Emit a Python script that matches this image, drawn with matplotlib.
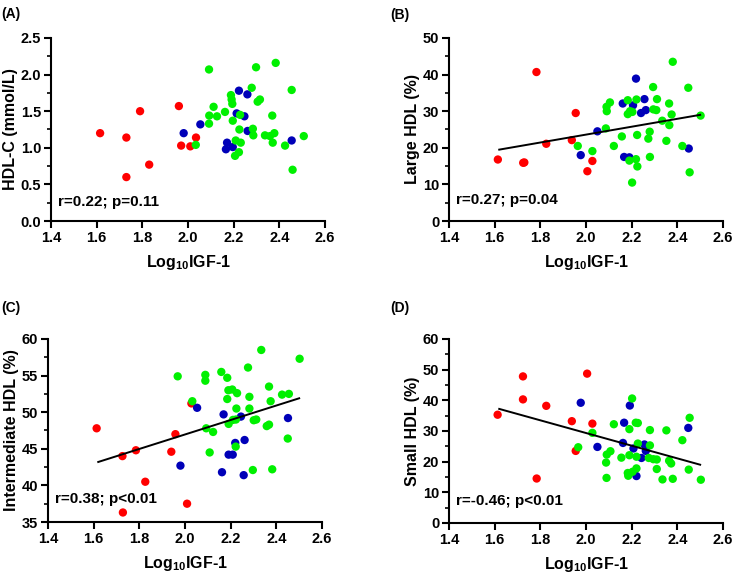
import matplotlib
matplotlib.use("Agg")
import matplotlib.pyplot as plt
from matplotlib.ticker import MultipleLocator

plt.rcParams['font.family'] = ['Liberation Sans', 'DejaVu Sans']
plt.rcParams['font.weight'] = 'bold'
plt.rcParams['mathtext.fontset'] = 'custom'
plt.rcParams['mathtext.bf'] = 'Liberation Sans:bold'
plt.rcParams['mathtext.rm'] = 'Liberation Sans:bold'

RED = '#FF0000'
GREEN = '#00F000'
BLUE = '#0000B8'

# ---- panel A: HDL-C ----
a_red_x = [1.615, 1.73, 1.73, 1.79, 1.83, 1.96, 1.97, 2.01, 2.035]
a_red_y = [1.20, 1.14, 0.60, 1.50, 0.77, 1.57, 1.03, 1.02, 1.14]
a_blue_x = [1.981, 2.054, 2.166, 2.171, 2.196, 2.213, 2.223, 2.247, 2.26, 2.261, 2.454]
a_blue_y = [1.20, 1.32, 0.98, 1.07, 1.01, 1.47, 1.78, 1.43, 1.73, 1.23, 1.10]
a_green_x = [2.034, 2.092, 2.092, 2.093, 2.112, 2.127, 2.162, 2.188, 2.191, 2.194, 2.196,
             2.206, 2.209, 2.223, 2.225, 2.228, 2.231, 2.279, 2.284, 2.286, 2.298, 2.305,
             2.315, 2.337, 2.359, 2.369, 2.371, 2.378, 2.384, 2.425, 2.454, 2.458, 2.507]
a_green_y = [1.04, 2.07, 1.33, 1.44, 1.56, 1.43, 1.49, 1.72, 1.66, 1.60, 1.37,
             0.89, 1.10, 0.94, 1.25, 1.45, 1.07, 1.82, 1.26, 1.17, 2.10, 1.63,
             1.66, 1.17, 1.16, 1.44, 1.07, 1.20, 2.16, 1.03, 1.79, 0.70, 1.16]

# ---- panel B: Large HDL ----
b_red_x = [1.614, 1.725, 1.73, 1.783, 1.826, 1.938, 1.955, 2.006, 2.028]
b_red_y = [16.8, 15.9, 16.0, 40.7, 21.1, 22.1, 29.5, 13.6, 16.4]
b_blue_x = [1.977, 2.05, 2.161, 2.167, 2.19, 2.206, 2.219, 2.241, 2.256, 2.262, 2.45]
b_blue_y = [18.0, 24.5, 32.1, 17.5, 17.4, 31.6, 38.9, 29.5, 33.3, 30.3, 19.8]
b_green_x = [1.964, 2.028, 2.087, 2.09, 2.091, 2.105, 2.122, 2.157, 2.183, 2.183, 2.19, 2.193,
             2.202, 2.203, 2.219, 2.221, 2.224, 2.225, 2.273, 2.279, 2.28, 2.294, 2.295, 2.308,
             2.311, 2.334, 2.352, 2.364, 2.365, 2.375, 2.38, 2.422, 2.448, 2.454, 2.502]
b_green_y = [20.5, 19.1, 25.3, 31.2, 30.0, 32.4, 20.5, 23.1, 33.0, 29.2, 16.5, 30.0,
             10.5, 29.8, 16.9, 33.2, 23.5, 14.9, 22.5, 24.4, 17.5, 36.6, 30.5, 30.3,
             33.3, 27.4, 21.9, 32.1, 26.2, 29.1, 43.5, 20.5, 36.4, 13.3, 28.8]
b_fit_x = [1.62, 2.50]
b_fit_y = [19.5, 29.0]

# ---- panel C: Intermediate HDL ----
c_red_x = [1.613, 1.726, 1.728, 1.785, 1.826, 1.94, 1.958, 2.009, 2.028]
c_red_y = [47.8, 44.0, 36.3, 44.8, 40.5, 44.6, 47.0, 37.5, 51.2]
c_blue_x = [1.98, 2.053, 2.162, 2.169, 2.191, 2.209, 2.22, 2.245, 2.257, 2.261, 2.451]
c_blue_y = [42.7, 50.6, 41.8, 49.7, 44.2, 44.2, 45.8, 49.4, 41.4, 46.2, 49.2]
c_green_x = [1.968, 2.032, 2.089, 2.089, 2.093, 2.108, 2.123, 2.159, 2.185, 2.185, 2.19, 2.191,
             2.207, 2.21, 2.222, 2.223, 2.225, 2.228, 2.276, 2.282, 2.282, 2.297, 2.301, 2.312,
             2.334, 2.358, 2.368, 2.368, 2.375, 2.382, 2.425, 2.45, 2.455, 2.502]
c_green_y = [54.9, 51.5, 55.1, 54.3, 47.8, 44.5, 47.3, 55.5, 54.7, 51.8, 53.0, 48.4,
             53.1, 48.95, 45.3, 49.0, 50.5, 52.6, 56.1, 52.1, 50.5, 42.1, 48.9, 49.0,
             58.5, 48.1, 53.5, 48.3, 51.5, 42.2, 52.4, 46.4, 52.5, 57.3]
c_fit_x = [1.62, 2.50]
c_fit_y = [43.2, 51.9]

# ---- panel D: Small HDL ----
d_red_x = [1.613, 1.724, 1.724, 1.784, 1.826, 1.938, 1.955, 2.005, 2.028]
d_red_y = [35.3, 47.8, 40.3, 14.5, 38.2, 33.2, 23.5, 48.7, 32.4]
d_blue_x = [1.977, 2.05, 2.162, 2.167, 2.192, 2.208, 2.221, 2.243, 2.256, 2.262, 2.448]
d_blue_y = [39.2, 24.8, 26.1, 32.7, 38.3, 24.3, 15.3, 21.2, 25.6, 23.5, 31.0]
d_green_x = [1.966, 2.028, 2.088, 2.091, 2.107, 2.09, 2.122, 2.155, 2.19, 2.19, 2.183, 2.185,
             2.202, 2.204, 2.218, 2.227, 2.221, 2.221, 2.227, 2.28, 2.28, 2.275, 2.295, 2.31,
             2.31, 2.335, 2.352, 2.364, 2.373, 2.38, 2.422, 2.45, 2.454, 2.503]
d_green_y = [24.7, 29.4, 19.7, 22.3, 23.4, 14.7, 32.2, 21.3, 30.6, 22.1, 16.3, 15.4,
             40.6, 16.7, 32.7, 32.6, 17.8, 21.6, 25.9, 30.3, 25.3, 21.2, 20.8, 20.7,
             17.6, 14.2, 30.2, 20.3, 19.4, 14.4, 27.0, 17.4, 34.3, 14.1]
d_fit_x = [1.62, 2.50]
d_fit_y = [37.2, 19.0]

panels = [
    dict(label='(A)', ylabel='HDL-C (mmol/L)', ylim=(0, 2.5), major=0.5, minor=0.25, yfmt='{:.1f}',
         red=(a_red_x, a_red_y), blue=(a_blue_x, a_blue_y), green=(a_green_x, a_green_y),
         fit=None, stats='r=0.22; p=0.11', stats_y=0.105,
         rect=[0.0695, 0.6143, 0.3733, 0.3194], label_xy=(0.002, 0.988)),
    dict(label='(B)', ylabel='Large HDL (%)', ylim=(0, 50), major=10, minor=5, yfmt='{:.0f}',
         red=(b_red_x, b_red_y), blue=(b_blue_x, b_blue_y), green=(b_green_x, b_green_y),
         fit=(b_fit_x, b_fit_y), stats='r=0.27; p=0.04', stats_y=0.115,
         rect=[0.6117, 0.6143, 0.3733, 0.3194], label_xy=(0.532, 0.986)),
    dict(label='(C)', ylabel='Intermediate HDL (%)', ylim=(35, 60), major=5, minor=2.5, yfmt='{:.0f}',
         red=(c_red_x, c_red_y), blue=(c_blue_x, c_blue_y), green=(c_green_x, c_green_y),
         fit=(c_fit_x, c_fit_y), stats='r=0.38; p<0.01', stats_y=0.125,
         rect=[0.0654, 0.0890, 0.3733, 0.3194], label_xy=(0.002, 0.474)),
    dict(label='(D)', ylabel='Small HDL (%)', ylim=(0, 60), major=10, minor=5, yfmt='{:.0f}',
         red=(d_red_x, d_red_y), blue=(d_blue_x, d_blue_y), green=(d_green_x, d_green_y),
         fit=(d_fit_x, d_fit_y), stats='r=-0.46; p<0.01', stats_y=0.12,
         rect=[0.6117, 0.0873, 0.3733, 0.3211], label_xy=(0.532, 0.474)),
]

fig = plt.figure(figsize=(7.34, 5.73), dpi=100)

for p in panels:
    ax = fig.add_axes(p['rect'])
    # dots: red, blue, green groups
    for key, col in (('red', RED), ('blue', BLUE), ('green', GREEN)):
        xs, ys = p[key]
        ax.scatter(xs, ys, s=36, color=col, edgecolors='none', zorder=3, clip_on=False)
    if p['fit'] is not None:
        ax.plot(p['fit'][0], p['fit'][1], color='black', lw=1.4, zorder=4)

    ax.set_xlim(1.4, 2.6)
    ax.set_ylim(*p['ylim'])
    ax.set_xticks([1.4, 1.6, 1.8, 2.0, 2.2, 2.4, 2.6])
    ax.set_xticklabels([f'{v:.1f}' for v in [1.4, 1.6, 1.8, 2.0, 2.2, 2.4, 2.6]])
    ax.yaxis.set_major_locator(MultipleLocator(p['major']))
    ax.yaxis.set_minor_locator(MultipleLocator(p['minor']))
    ax.yaxis.set_major_formatter(plt.FuncFormatter(lambda v, pos, f=p['yfmt']: f.format(v)))

    for side in ('top', 'right'):
        ax.spines[side].set_visible(False)
    for side in ('left', 'bottom'):
        ax.spines[side].set_linewidth(1.5)
    ax.tick_params(axis='both', which='major', direction='out', length=5, width=1.5,
                   labelsize=10.5, pad=2)
    ax.tick_params(axis='y', which='minor', direction='out', length=3, width=1.2)

    ax.set_xlabel(r'Log$_{\mathbf{10}}$IGF-1', fontsize=11.5, fontweight='bold', labelpad=6)
    ax.set_ylabel(p['ylabel'], fontsize=11.5, fontweight='bold', labelpad=2)
    ax.text(0.025, p['stats_y'], p['stats'], transform=ax.transAxes, fontsize=11,
            fontweight='bold', va='center', ha='left')
    fig.text(p['label_xy'][0], p['label_xy'][1], p['label'], fontsize=10,
             fontweight='bold', va='top', ha='left')

fig.savefig('out.png', dpi=100)
